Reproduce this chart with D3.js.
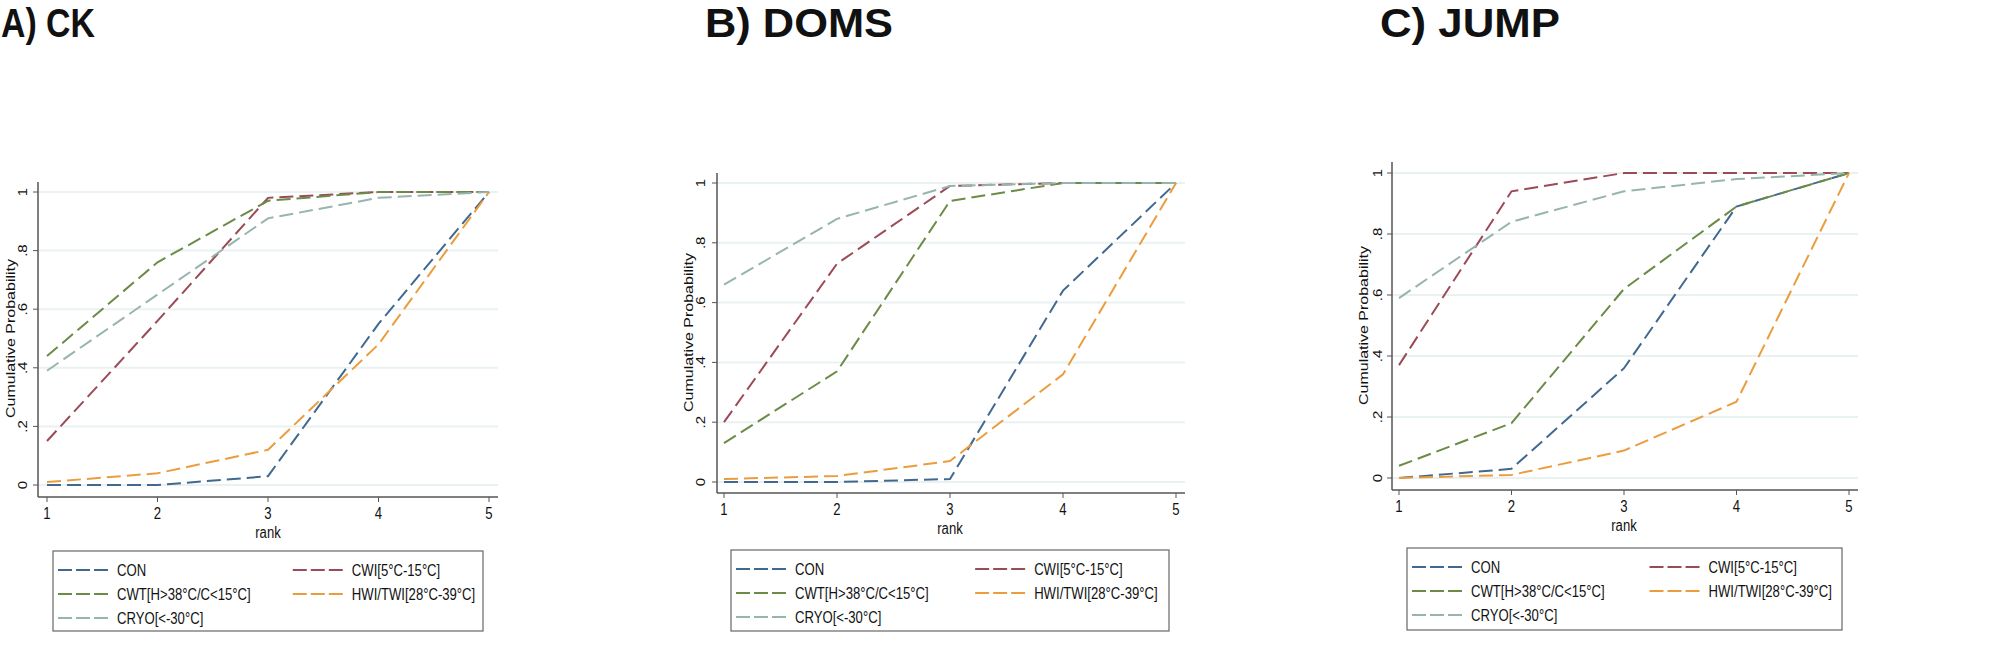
<!DOCTYPE html>
<html>
<head>
<meta charset="utf-8">
<script src="https://cdn.jsdelivr.net/npm/d3@7"></script>
<style>
  body { margin: 0; background: #fff; }
  svg { display: block; font-family: "Liberation Sans", Arial, Helvetica, sans-serif; }
</style>
</head>
<body>
<div id="chart"></div>
<script>
// data
var ranks = [1, 2, 3, 4, 5];
var seriesNames = ["CON", "CWI[5°C-15°C]", "CWT[H>38°C/C<15°C]", "HWI/TWI[28°C-39°C]", "CRYO[<-30°C]"];
var seriesColors = ["#41698f", "#9b4b57", "#6b8b47", "#eb9d3e", "#97b5ac"];
var yTicks = [0, 0.2, 0.4, 0.6, 0.8, 1];
var yTickLabels = ["0", ".2", ".4", ".6", ".8", "1"];
var panelTitles = ["A) CK", "B) DOMS", "C) JUMP"];

// cumulative probability by rank, one row per series (same order as seriesNames)
var ckValues = [
    [0, 0, 0.03, 0.55, 1],
    [0.15, 0.56, 0.98, 1, 1],
    [0.44, 0.76, 0.97, 1, 1],
    [0.01, 0.04, 0.12, 0.48, 1],
    [0.39, 0.65, 0.91, 0.98, 1]
];
var domsValues = [
    [0, 0, 0.01, 0.64, 1],
    [0.20, 0.73, 0.99, 1, 1],
    [0.13, 0.37, 0.94, 1, 1],
    [0.01, 0.02, 0.07, 0.36, 1],
    [0.66, 0.88, 0.99, 1, 1]
];
var jumpValues = [
    [0, 0.03, 0.36, 0.89, 1],
    [0.37, 0.94, 1, 1, 1],
    [0.04, 0.18, 0.62, 0.89, 1],
    [0, 0.01, 0.09, 0.25, 1],
    [0.59, 0.84, 0.94, 0.98, 1]
];
var panelValues = [ckValues, domsValues, jumpValues];

// layout of the three panels (pixels)
var layout = [
    {titleX: 1, titleW: 94, axisX: 38, x1: 47, x5: 489, right: 498, y0: 485, y1: 192, top: 182, bottom: 497,
     yLabX: 10, yTickX: 23, legX: 53, legW: 430, legY: 551, legH: 80},
    {titleX: 705, titleW: 188, axisX: 717, x1: 724, x5: 1176, right: 1185, y0: 482, y1: 183, top: 173, bottom: 493,
     yLabX: 688, yTickX: 701, legX: 731, legW: 438, legY: 550, legH: 81},
    {titleX: 1380, titleW: 180, axisX: 1392, x1: 1399, x5: 1849, right: 1858, y0: 478, y1: 173, top: 162, bottom: 490,
     yLabX: 1363, yTickX: 1378, legX: 1407, legW: 435, legY: 548, legH: 82}
];

var width = 2008, height = 653;
var squeeze = 0.82;   // the panels are horizontally compressed

var svg = d3.select("#chart").append("svg")
    .attr("width", width)
    .attr("height", height);

layout.forEach(function(p, pi) {

    var g = svg.append("g");

    var x = d3.scaleLinear().domain([1, 5]).range([p.x1, p.x5]);
    var y = d3.scaleLinear().domain([0, 1]).range([p.y0, p.y1]);

    // title
    g.append("text")
        .attr("x", p.titleX)
        .attr("y", 37)
        .attr("font-size", 40)
        .attr("font-weight", "bold")
        .attr("fill", "#111")
        .attr("textLength", p.titleW)
        .attr("lengthAdjust", "spacingAndGlyphs")
        .text(panelTitles[pi]);

    // gridlines
    g.selectAll(".grid")
        .data(yTicks)
        .enter().append("line")
        .attr("x1", p.axisX)
        .attr("x2", p.right)
        .attr("y1", function(d) { return y(d); })
        .attr("y2", function(d) { return y(d); })
        .attr("stroke", "#eaf1f1")
        .attr("stroke-width", 2);

    // axis lines
    g.append("line")
        .attr("x1", p.axisX).attr("x2", p.axisX)
        .attr("y1", p.top).attr("y2", p.bottom)
        .attr("stroke", "#555").attr("stroke-width", 1.5);
    g.append("line")
        .attr("x1", p.axisX).attr("x2", p.right)
        .attr("y1", p.bottom).attr("y2", p.bottom)
        .attr("stroke", "#555").attr("stroke-width", 1.5);

    // y ticks
    g.selectAll(".ytick")
        .data(yTicks)
        .enter().append("line")
        .attr("x1", p.axisX - 5).attr("x2", p.axisX)
        .attr("y1", function(d) { return y(d); })
        .attr("y2", function(d) { return y(d); })
        .attr("stroke", "#555");

    g.selectAll(".ylab")
        .data(yTicks)
        .enter().append("text")
        .attr("transform", function(d) {
            return "translate(" + p.yTickX + "," + y(d) + ") scale(" + squeeze + ",1) rotate(-90)";
        })
        .attr("text-anchor", "middle")
        .attr("dy", "0.35em")
        .attr("font-size", 15)
        .attr("fill", "#111")
        .text(function(d, i) { return yTickLabels[i]; });

    g.append("text")
        .attr("transform", "translate(" + p.yLabX + "," + ((p.y0 + p.y1) / 2) + ") scale(0.85,1) rotate(-90)")
        .attr("text-anchor", "middle")
        .attr("dy", "0.35em")
        .attr("font-size", 16)
        .attr("fill", "#111")
        .text("Cumulative Probability");

    // x ticks
    g.selectAll(".xtick")
        .data(ranks)
        .enter().append("line")
        .attr("x1", function(d) { return x(d); })
        .attr("x2", function(d) { return x(d); })
        .attr("y1", p.bottom).attr("y2", p.bottom + 5)
        .attr("stroke", "#555");

    g.selectAll(".xlab")
        .data(ranks)
        .enter().append("text")
        .attr("transform", function(d) {
            return "translate(" + x(d) + "," + (p.bottom + 22) + ") scale(" + squeeze + ",1)";
        })
        .attr("text-anchor", "middle")
        .attr("font-size", 16)
        .attr("fill", "#111")
        .text(function(d) { return d; });

    g.append("text")
        .attr("transform", "translate(" + ((p.x1 + p.x5) / 2) + "," + (p.bottom + 41) + ") scale(" + squeeze + ",1)")
        .attr("text-anchor", "middle")
        .attr("font-size", 16)
        .attr("fill", "#111")
        .text("rank");

    // series
    var line = d3.line()
        .x(function(d, i) { return x(ranks[i]); })
        .y(function(d) { return y(d); });

    g.selectAll(".series")
        .data(panelValues[pi])
        .enter().append("path")
        .attr("d", line)
        .attr("fill", "none")
        .attr("stroke", function(d, i) { return seriesColors[i]; })
        .attr("stroke-width", 2)
        .attr("stroke-dasharray", "14,6");

    // legend
    var leg = g.append("g")
        .attr("transform", "translate(" + p.legX + "," + p.legY + ")");

    leg.append("rect")
        .attr("width", p.legW)
        .attr("height", p.legH)
        .attr("fill", "#fff")
        .attr("stroke", "#666")
        .attr("stroke-width", 1.2);

    var item = leg.selectAll(".item")
        .data(seriesNames)
        .enter().append("g")
        .attr("transform", function(d, i) {
            var col = i % 2, row = Math.floor(i / 2);
            return "translate(" + (5 + col * p.legW * 0.546) + "," + (19 + row * 24) + ")";
        });

    item.append("line")
        .attr("x1", 0).attr("x2", 50)
        .attr("stroke", function(d, i) { return seriesColors[i]; })
        .attr("stroke-width", 2)
        .attr("stroke-dasharray", "14,4");

    item.append("text")
        .attr("transform", "translate(59,0) scale(" + squeeze + ",1)")
        .attr("dy", "0.36em")
        .attr("font-size", 16)
        .attr("fill", "#111")
        .text(function(d) { return d; });
});
</script>
</body>
</html>
